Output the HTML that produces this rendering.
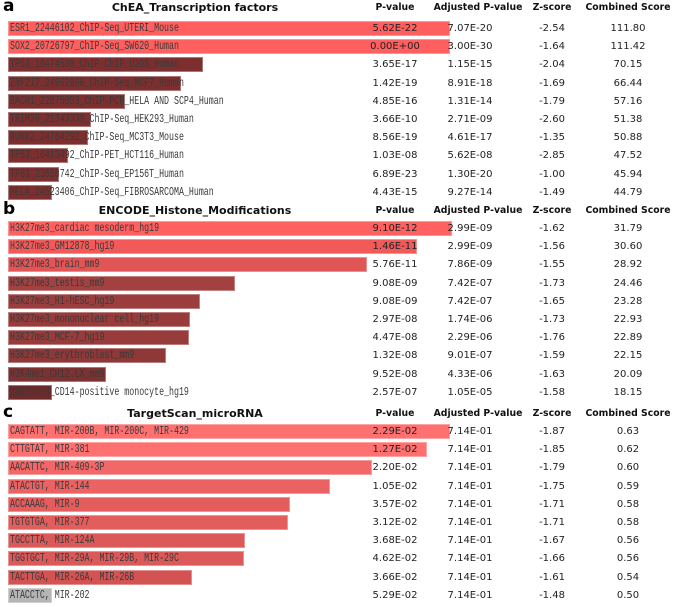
<!DOCTYPE html>
<html><head><meta charset="utf-8">
<style>
body{margin:0;background:#fff;width:675px;height:607px;overflow:hidden;position:relative;font-family:"DejaVu Sans","Liberation Sans",sans-serif;}
.abs{position:absolute;white-space:nowrap;}
.plabel{font-weight:bold;font-size:17px;color:#000;line-height:17px;}
.title{font-weight:bold;font-size:11px;color:#111;line-height:14px;}
.hdr{font-weight:bold;font-size:9.3px;color:#111;transform:translateX(-50%);line-height:14px;}
.bar{position:absolute;height:15px;box-sizing:border-box;}
.lab{font-family:"Liberation Mono",monospace;font-size:12px;color:#3a3a3a;line-height:15px;transform:scaleX(0.69);transform-origin:0 50%;}
.cell{font-size:10px;color:#222;transform:translateX(-50%);line-height:15px;}
</style></head><body>
<div id="root"></div>
<script>
const panelLetters=["a","b","c"];
const panelTitles=["ChEA_Transcription factors","ENCODE_Histone_Modifications","TargetScan_microRNA"];
const termsA=["ESR1_22446102_ChIP-Seq_UTERI_Mouse","SOX2_20726797_ChIP-Seq_SW620_Human","TP53_18474530_ChIP-ChIP_U2OS_Human","ZNF217_24962896_ChIP-Seq_MCF7_Human","BACH1_22875853_ChIP-PCR_HELA AND SCP4_Human","TRIM28_21343339_ChIP-Seq_HEK293_Human","RUNX2_24764292_ChIP-Seq_MC3T3_Mouse","TP53_16413492_ChIP-PET_HCT116_Human","TP63_23658742_ChIP-Seq_EP156T_Human","RELA_24523406_ChIP-Seq_FIBROSARCOMA_Human"];
const pA=["5.62E-22","0.00E+00","3.65E-17","1.42E-19","4.85E-16","3.66E-10","8.56E-19","1.03E-08","6.89E-23","4.43E-15"];
const adjA=["7.07E-20","3.00E-30","1.15E-15","8.91E-18","1.31E-14","2.71E-09","4.61E-17","5.62E-08","1.30E-20","9.27E-14"];
const zA=["-2.54","-1.64","-2.04","-1.69","-1.79","-2.60","-1.35","-2.85","-1.00","-1.49"];
const csA=["111.80","111.42","70.15","66.44","57.16","51.38","50.88","47.52","45.94","44.79"];
const barA=[100,100,44.2,39.2,26.5,18.8,18.1,13.6,11.6,10.0];
const termsB=["H3K27me3_cardiac mesoderm_hg19","H3K27me3_GM12878_hg19","H3K27me3_brain_mm9","H3K27me3_testis_mm9","H3K27me3_H1-hESC_hg19","H3K27me3_mononuclear cell_hg19","H3K27me3_MCF-7_hg19","H3K27me3_erythroblast_mm9","H3K4me1_CH12.LX_mm9","H3K27me3_CD14-positive monocyte_hg19"];
const pB=["9.10E-12","1.46E-11","5.76E-11","9.08E-09","9.08E-09","2.97E-08","4.47E-08","1.32E-08","9.52E-08","2.57E-07"];
const adjB=["2.99E-09","2.99E-09","7.86E-09","7.42E-07","7.42E-07","1.74E-06","2.29E-06","9.01E-07","4.33E-06","1.05E-05"];
const zB=["-1.62","-1.56","-1.55","-1.73","-1.65","-1.73","-1.76","-1.59","-1.63","-1.58"];
const csB=["31.79","30.60","28.92","24.46","23.28","22.93","22.89","22.15","20.09","18.15"];
const barB=[100,92.1,80.9,51.2,43.2,40.9,40.7,35.6,22.0,9.8];
const termsC=["CAGTATT, MIR-200B, MIR-200C, MIR-429","CTTGTAT, MIR-381","AACATTC, MIR-409-3P","ATACTGT, MIR-144","ACCAAAG, MIR-9","TGTGTGA, MIR-377","TGCCTTA, MIR-124A","TGGTGCT, MIR-29A, MIR-29B, MIR-29C","TACTTGA, MIR-26A, MIR-26B","ATACCTC, MIR-202"];
const pC=["2.29E-02","1.27E-02","2.20E-02","1.05E-02","3.57E-02","3.12E-02","3.68E-02","4.62E-02","3.66E-02","5.29E-02"];
const adjC=["7.14E-01","7.14E-01","7.14E-01","7.14E-01","7.14E-01","7.14E-01","7.14E-01","7.14E-01","7.14E-01","7.14E-01"];
const zC=["-1.87","-1.85","-1.79","-1.75","-1.71","-1.71","-1.67","-1.66","-1.61","-1.48"];
const csC=["0.63","0.62","0.60","0.59","0.58","0.58","0.56","0.56","0.54","0.50"];
const barC=[100,94.8,82.3,72.9,63.9,63.4,53.7,53.3,41.6,10.0];
const colA=["#ff5f5f","#ff5f5f","#7d2f2f","#7d2f2f","#7d2f2f","#7d2f2f","#7d2f2f","#7d2f2f","#7d2f2f","#7d2f2f"];
const colB=["#ff6060","#f25a5a","#e05555","#a34040","#9c3d3d","#973b3b","#973b3b","#8e3838","#7e3131","#6e2a2a"];
const colC=["#ff7070","#ff7070","#f26767","#eb6262","#e35d5d","#e35d5d","#dc5959","#dc5959","#d35353","#b5b5b5"];

const panels=[
 {terms:termsA,p:pA,adj:adjA,z:zA,cs:csA,bar:barA,col:colA,top:8,rowTop:21,pitch:18.2,maxW:442,name:"chea"},
 {terms:termsB,p:pB,adj:adjB,z:zB,cs:csB,bar:barB,col:colB,top:211,rowTop:221,pitch:18.2,maxW:444,name:"encode"},
 {terms:termsC,p:pC,adj:adjC,z:zC,cs:csC,bar:barC,col:colC,top:414,rowTop:424,pitch:18.2,maxW:442,name:"targetscan"}
];
const colX=[395,470,552,628];
const hdrs=["P-value","Adjusted P-value","Z-score","Combined Score"];
const hdrX=[395,478,552,628];
const root=document.getElementById('root');
function div(cls,x,y,txt){const d=document.createElement('div');d.className='abs '+cls;d.style.left=x+'px';d.style.top=y+'px';if(txt!==undefined)d.textContent=txt;root.appendChild(d);return d;}
panels.forEach((P,pi)=>{
 const L=div('plabel',3,P.top-10,panelLetters[pi]);
 
 
 const T=div('title',0,P.top-7,panelTitles[pi]);
 T.style.width='390px';T.style.textAlign='center';
 
 
 hdrs.forEach((h,hi)=>{
  const H=div('hdr',hdrX[hi],P.top-7,h);
  
  
 });
 P.terms.forEach((t,i)=>{
  const y=P.rowTop+i*P.pitch;
  const b=div('bar',8,y);
  b.style.width=(P.bar[i]/100*P.maxW)+'px';
  b.style.background=P.col[i];
  b.style.border='1px solid rgba(255,255,255,0.35)';
  
  
  const l=div('lab',10,y,t);
  
  
  [P.p[i],P.adj[i],P.z[i],P.cs[i]].forEach((v,ci)=>{
   const c=div('cell',colX[ci],y,v);
   
   
  });
 });
});
</script>
</body></html>
